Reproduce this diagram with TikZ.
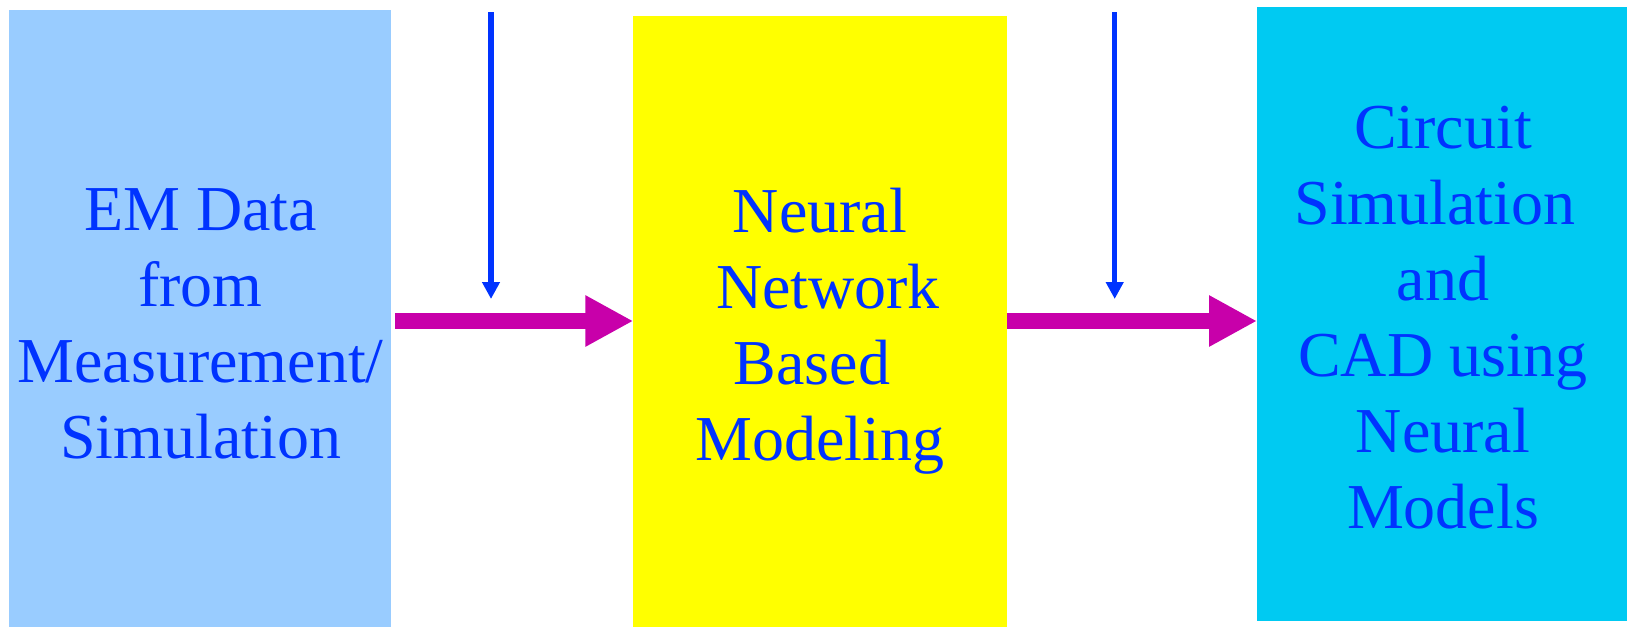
\documentclass[tikz,border=0pt]{standalone}
\usepackage{fontspec}
\setmainfont{Liberation Serif}
\usetikzlibrary{arrows.meta}
\definecolor{boxblue}{RGB}{153,204,255}
\definecolor{boxyellow}{RGB}{255,255,0}
\definecolor{boxcyan}{RGB}{0,202,242}
\definecolor{inkblue}{RGB}{0,51,255}
\definecolor{flowmag}{RGB}{200,0,170}
\newcommand{\padspace}{\rule{.25em}{0pt}}
\tikzset{
  stage/.style={rectangle, draw=none, inner sep=0pt, outer sep=0pt},
  stagetext/.style={align=center, inner sep=0pt, anchor=base, text=inkblue,
    font=\fontsize{64pt}{76pt}\selectfont},
  flow/.style={draw=flowmag, line width=16pt,
    -{Triangle[length=48pt,width=48pt]}},
  feed/.style={draw=inkblue, line width=5.3pt,
    -{Triangle[length=17pt,width=17pt]}},
}
\begin{document}
\begin{tikzpicture}[x=1pt,y=-1pt]
\useasboundingbox (0,0) rectangle (1627,627);
% the three stages
\node[stage, fill=boxblue, minimum width=382pt, minimum height=617pt,
  anchor=north west] (em) at (9,10) {};
\node[stage, fill=boxyellow, minimum width=374pt, minimum height=611.3pt,
  anchor=north west] (nn) at (633.3,15.7) {};
\node[stage, fill=boxcyan, minimum width=370pt, minimum height=613.7pt,
  anchor=north west] (cad) at (1257,7.3) {};
% stage labels (anchored at the baseline of the last line)
\node[stagetext] (emtext) at (200.5,458.3)
  {EM Data\\from\\Measurement/\\Simulation};
\node[stagetext] (nntext) at (820,460)
  {Neural\\\padspace Network\\Based\padspace\\Modeling};
\node[stagetext] (cadtext) at (1443,528.3)
  {Circuit\\Simulation\padspace\\and\\CAD using\\Neural\\Models};
% data flow between stages
\draw[flow, shorten <=4pt] (em.east |- 0,321) -- (nn.west |- 0,321);
\draw[flow] (nn.east |- 0,321) -- (cad.west |- 0,321);
% inputs from above
\coordinate (in1top) at (491,12);
\coordinate (in1tip) at (491,299);
\coordinate (in2top) at (1114.7,12);
\coordinate (in2tip) at (1114.7,299);
\draw[feed] (in1top) -- (in1tip);
\draw[feed] (in2top) -- (in2tip);
\end{tikzpicture}
\end{document}
